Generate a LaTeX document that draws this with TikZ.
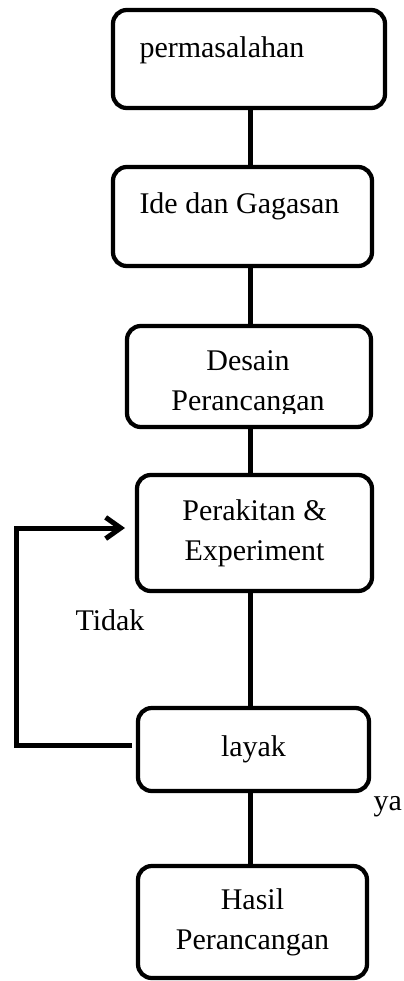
\documentclass[tikz,border=0pt]{standalone}
\usepackage{fontspec}
\setmainfont{Liberation Serif}
\usetikzlibrary{arrows.meta}

\tikzset{
  box/.style={draw,line width=1.7pt,rounded corners=5.5pt,align=center,font=\fontsize{12}{16}\selectfont},
  txt/.style={inner sep=0pt,align=center,font=\fontsize{12}{16}\selectfont},
  link/.style={line width=2pt},
}

\begin{document}
\begin{tikzpicture}[x=0.4pt,y=-0.4pt]
\useasboundingbox (0,0) rectangle (404,981);
% boxes
\node[box,minimum width=108.8pt,minimum height=39.2pt] (b1) at (249,59) {};
\node[txt,anchor=base west] (t1) at (139,57) {permasalahan};
\node[box,minimum width=103.6pt,minimum height=39.6pt] (b2) at (242.5,216.5) {};
\node[txt,anchor=base west] (t2) at (139,213) {Ide dan Gagasan};
\node[box,minimum width=97.6pt,minimum height=40.4pt] (b3) at (249,376.5) {};
\begin{scope}
\clip (127,326) rectangle (371,413);
\node[txt] (t3) at (248,384) {Desain\\Perancangan};
\end{scope}
\node[box,minimum width=94pt,minimum height=46.4pt] (b4) at (254.5,533) {Perakitan \&\\Experiment};
\node[box,minimum width=92.4pt,minimum height=33.2pt] (b5) at (253.5,749.5) {layak};
\node[box,minimum width=91.6pt,minimum height=44.8pt] (b6) at (252.5,922) {Hasil\\Perancangan};
% connectors
\coordinate (spine) at (250,0);
\draw[link] (spine |- b1.south) -- (spine |- b2.north);
\draw[link] (spine |- b2.south) -- (spine |- b3.north);
\draw[link] (spine |- b3.south) -- (spine |- b4.north);
\draw[link] (spine |- b4.south) -- (spine |- b5.north);
\draw[link] (spine |- b5.south) -- (spine |- b6.north);
% back loop
\coordinate (no) at (132,745);
\coordinate (back) at (125,528);
\coordinate (rail) at (16,0);
\draw[link,-{Straight Barb[length=6pt,width=8.5pt]}] (no) -| (rail |- back) -- (back);
\node[txt,anchor=base west] (tidak) at (75,630) {Tidak};
\node[txt,anchor=base west] (ya) at (373,810) {ya};
\end{tikzpicture}
\end{document}
